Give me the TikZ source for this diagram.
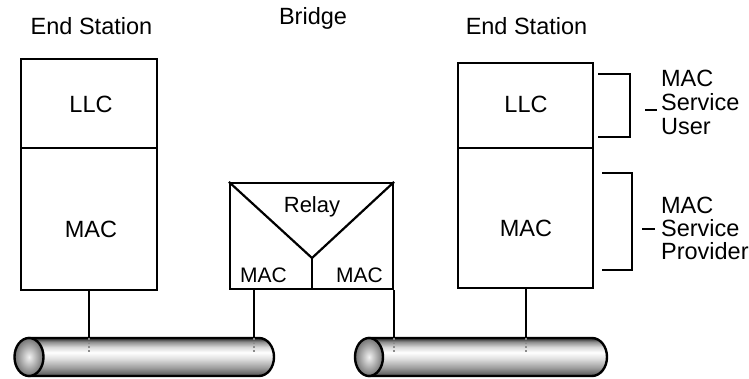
\documentclass[tikz,border=0pt]{standalone}
\usepackage{fontspec}
\setmainfont{Liberation Sans}
\usetikzlibrary{shadings}
\pgfdeclareverticalshading{cableshade}{100bp}{color(0bp)=(black!85); color(25bp)=(black!85); color(28bp)=(black!60); color(36bp)=(black!38); color(48bp)=(black!12); color(56bp)=(white); color(63bp)=(black!15); color(70bp)=(black!45); color(75bp)=(black!85); color(100bp)=(black!85)}
\begin{document}
\begin{tikzpicture}[x=1pt,y=-1pt,line width=2.2pt,
  box/.style={draw,rectangle,inner sep=0pt},
  lbl/.style={inner sep=0pt,anchor=base,font=\fontsize{23.5}{28}\selectfont},
  small/.style={inner sep=0pt,anchor=base,font=\fontsize{21}{25}\selectfont},
  side/.style={inner sep=0pt,anchor=base west,font=\fontsize{23.5}{28}\selectfont},
  cable/.style={draw,line width=2.4pt,shade,shading=cableshade},
  cableend/.style={draw,line width=2.4pt,shade,inner color=black!5,outer color=black!55},
  tap/.style={draw=black!45,line width=1.6pt,dash pattern=on 2pt off 2pt}]
\useasboundingbox (0,0) rectangle (749,379);

% cables
\path[cable] (29,338) -- (259,338) arc[start angle=-90,end angle=90,x radius=15,y radius=19] -- (29,376) -- cycle;
\path[cableend] (29,357) ellipse[x radius=14.5,y radius=19];
\path[cable] (369,338) -- (592,338) arc[start angle=-90,end angle=90,x radius=15,y radius=19] -- (369,376) -- cycle;
\path[cableend] (369,357) ellipse[x radius=14,y radius=19];

\coordinate (c1) at (89,338);
\coordinate (c2) at (254,338);
\coordinate (c3) at (394,338);
\coordinate (c4) at (526,338);

% left end station
\node[box,minimum width=136pt,minimum height=89pt] (lllc) at (89,103.5) {};
\node[box,minimum width=136pt,minimum height=142pt] (lmac) at (89,219) {};
\node[lbl] (t1) at (91.5,35) {End Station};
\node[lbl] (l1) at (91,113) {LLC};
\node[lbl] (m1) at (91,238) {MAC};

% right end station
\node[box,minimum width=135pt,minimum height=85pt] (rllc) at (525.5,105.5) {};
\node[box,minimum width=135pt,minimum height=140pt] (rmac) at (525.5,218) {};
\node[lbl] (t3) at (526.5,35) {End Station};
\node[lbl] (l3) at (526,113) {LLC};
\node[lbl] (m3) at (526,237) {MAC};

% bridge
\node[box,minimum width=163pt,minimum height=106pt] (bridge) at (311.5,236) {};
\coordinate (vtip) at (312,258);
\draw (bridge.north west) -- (vtip) -- (bridge.north east);
\draw (vtip) -- (vtip |- bridge.south);
\node[lbl] (t2) at (313,25) {Bridge};
\node[lbl,font=\fontsize{22}{26}\selectfont] (relay) at (312,213) {Relay};
\node[small] (bm1) at (263.5,283) {MAC};
\node[small] (bm2) at (359.5,283) {MAC};

% connectors to cables
\draw (lmac.south) -- (c1);
\draw (c2 |- bridge.south) -- (c2);
\draw (c3 |- bridge.south) -- (c3);
\draw (rmac.south -| c4) -- (c4);
\draw[tap] (c1) -- ++(0,14);
\draw[tap] (c2) -- ++(0,14);
\draw[tap] (c3) -- ++(0,14);
\draw[tap] (c4) -- ++(0,14);

% brackets
\coordinate (u1) at (598,74);
\coordinate (u2) at (630,74);
\coordinate (u3) at (630,137);
\coordinate (u4) at (598,137);
\draw (u1) -- (u2) -- (u3) -- (u4);
\coordinate (ut1) at (645,110);
\coordinate (ut2) at (657,110);
\draw (ut1) -- (ut2);
\coordinate (p1) at (602,173);
\coordinate (p2) at (632,173);
\coordinate (p3) at (632,270);
\coordinate (p4) at (602,270);
\draw (p1) -- (p2) -- (p3) -- (p4);
\coordinate (pt1) at (642,229);
\coordinate (pt2) at (655,229);
\draw (pt1) -- (pt2);

\node[side] (s1) at (660,87) {MAC};
\node[side] (s2) at (660,111) {Service};
\node[side] (s3) at (660,135) {User};
\node[side] (s4) at (660,214) {MAC};
\node[side] (s5) at (660,237) {Service};
\node[side] (s6) at (660,260) {Provider};
\end{tikzpicture}
\end{document}
